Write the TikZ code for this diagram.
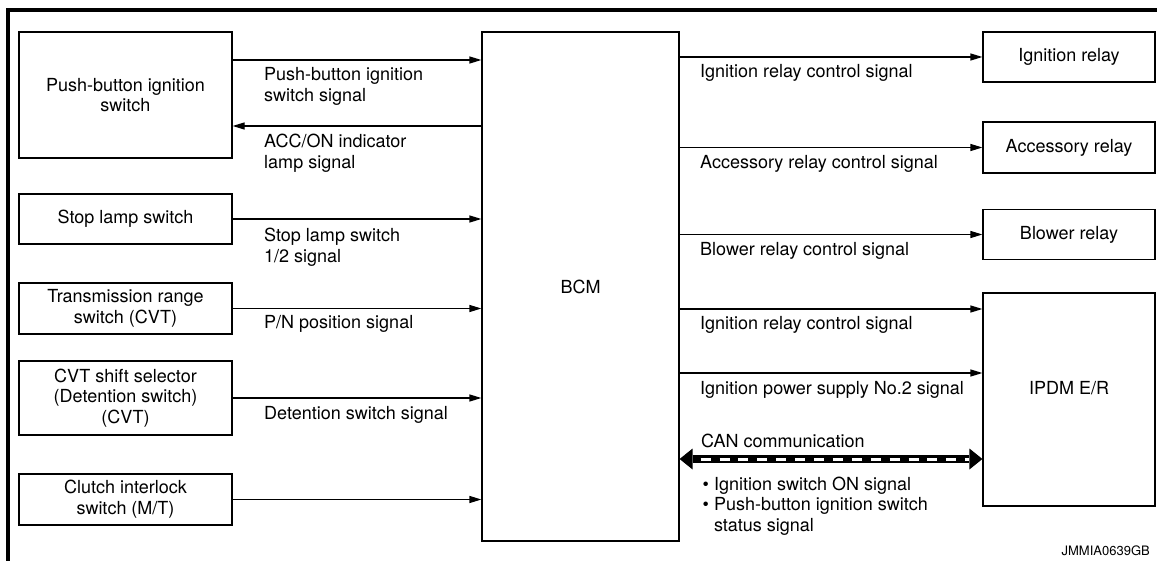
\documentclass[tikz,border=0pt]{standalone}
\usepackage{fontspec}
\setmainfont{TeX Gyre Heros}
\usetikzlibrary{arrows.meta}
\newcommand\twol[2]{\vtop{\hbox{#1}\hbox{#2}}}
\begin{document}
\begin{tikzpicture}[x=1pt,y=-1pt,
  every node/.style={font=\fontsize{18}{20.7}\selectfont, inner sep=0pt},
  box/.style={draw, line width=1.2pt, align=center},
  arr/.style={line width=1.2pt, -{Triangle[length=12pt,width=7pt]}},
  lbl/.style={anchor=base west},
  canarr/.style={line width=7.5pt,
     {Triangle[length=13pt,width=21pt,line width=0pt]}-{Triangle[length=13pt,width=21pt,line width=0pt]}},
  candash/.style={white, line width=3pt, dash pattern=on 10pt off 8.9pt}]
\useasboundingbox (0,0) rectangle (1157,561);
% frame
\draw[line width=4pt] (8,561) -- (8,10.3) -- (1157,10.3);

% left boxes
\node[box, minimum width=213pt, minimum height=126pt] (pb) at (125.5,95) {Push-button ignition\\switch};
\node[box, minimum width=213pt, minimum height=50pt] (stop) at (125.5,219) {Stop lamp switch};
\node[box, minimum width=213pt, minimum height=51pt] (trans) at (125.5,308.5) {Transmission range\\switch (CVT)};
\node[box, minimum width=213pt, minimum height=74pt] (cvt) at (125.5,398) {CVT shift selector\\(Detention switch)\\(CVT)};
\node[box, minimum width=213pt, minimum height=51pt] (clutch) at (125.5,499.5) {Clutch interlock\\switch (M/T)};

% BCM
\node[box, minimum width=197pt, minimum height=509pt] (bcm) at (580.5,286.5) {BCM};

% right boxes
\node[box, minimum width=172pt, minimum height=50pt] (ign) at (1069,57) {Ignition relay};
\node[box, minimum width=172pt, minimum height=51pt] (acc) at (1069,147.5) {Accessory relay};
\node[box, minimum width=172pt, minimum height=50pt] (blow) at (1069,234.5) {Blower relay};
\node[box, minimum width=172pt, minimum height=213pt] (ipdm) at (1069,399.5) {};
\node[anchor=base] (ipdmtxt) at (1069,394) {IPDM E/R};

% left connectors
\draw[arr] (pb.east |- 0,60) -- (bcm.west |- 0,60);
\node[lbl] (lpb) at (264,81) {\twol{Push-button ignition}{switch signal}};
\draw[arr] (bcm.west |- 0,126) -- (pb.east |- 0,126);
\node[lbl] (lacc) at (264,147.7) {\twol{ACC/ON indicator}{lamp signal}};
\draw[arr] (stop.east) -- (stop.east -| bcm.west);
\node[lbl] (lstop) at (264,241.7) {\twol{Stop lamp switch}{1/2 signal}};
\draw[arr] (trans.east) -- (trans.east -| bcm.west);
\node[lbl] (lpn) at (264,328.5) {P/N position signal};
\draw[arr] (cvt.east) -- (cvt.east -| bcm.west);
\node[lbl] (ldet) at (264,419.5) {Detention switch signal};
\draw[arr] (clutch.east) -- (clutch.east -| bcm.west);

% right connectors
\draw[arr] (ign.west -| bcm.east) -- (ign.west);
\node[lbl] (lign) at (700,78) {Ignition relay control signal};
\draw[arr] (acc.west -| bcm.east) -- (acc.west);
\node[lbl] (lacr) at (700,168.5) {Accessory relay control signal};
\draw[arr] (blow.west -| bcm.east) -- (blow.west);
\node[lbl] (lblow) at (700,255.5) {Blower relay control signal};
\draw[arr] (bcm.east |- 0,309) -- (ipdm.west |- 0,309);
\node[lbl] (lign2) at (700,330) {Ignition relay control signal};
\draw[arr] (bcm.east |- 0,373) -- (ipdm.west |- 0,373);
\node[lbl] (lpow) at (700,394) {Ignition power supply No.2 signal};

% CAN
\coordinate (cana) at (bcm.east |- 0,459);
\coordinate (canb) at (ipdm.west |- 0,459);
\draw[canarr] (cana) -- (canb);
\draw[candash] ([xshift=21pt]cana) -- ([xshift=-13pt]canb);
\node[lbl] (lcan) at (701,447.3) {CAN communication};
\node[lbl] (lbul) at (702.5,490) {\vtop{\hbox{• Ignition switch ON signal}\hbox{• Push-button ignition switch}\hbox{\phantom{• }status signal}}};

% code
\node[anchor=base east, font=\fontsize{13}{15}\selectfont] (code) at (1150,555) {JMMIA0639GB};
\end{tikzpicture}
\end{document}
